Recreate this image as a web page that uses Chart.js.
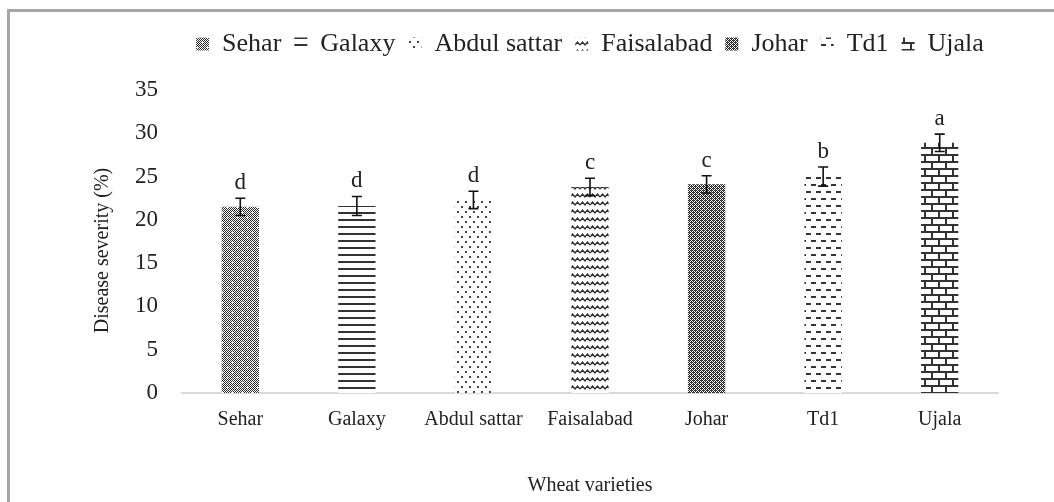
<!DOCTYPE html>
<html>
<head>
<meta charset="utf-8">
<script src="https://cdn.jsdelivr.net/npm/chart.js@4.4.1/dist/chart.umd.min.js"></script>
<style>
  html, body { margin: 0; padding: 0; background: #fff; overflow: hidden; }
  #frame { position: absolute; left: 7px; top: 9px; width: 2000px; height: 2000px; border: 3px solid #a6a6a6; }
  #chart { position: absolute; left: 0; top: 0; }
</style>
</head>
<body>
<div id="frame"></div>
<canvas id="chart" width="1054" height="502"></canvas>
<script>
// varieties, mean severity, error and letter groups
const varieties = ['Sehar', 'Galaxy', 'Abdul sattar', 'Faisalabad', 'Johar', 'Td1', 'Ujala'];
const severity = [21.5, 21.6, 22.3, 23.8, 24.1, 25.0, 28.9];
const errors = [1.0, 1.1, 1.0, 1.0, 1.0, 1.1, 1.0];
const letters = ['d', 'd', 'd', 'c', 'c', 'b', 'a'];
const yTicks = [0, 5, 10, 15, 20, 25, 30, 35];

const SERIF = '"Liberation Serif", "Times New Roman", serif';
const INK = '#222';

// little tile canvases -> fill patterns
function tile(w, h, draw) {
  const c = document.createElement('canvas');
  c.width = w; c.height = h;
  const g = c.getContext('2d');
  g.fillStyle = '#fff';
  g.fillRect(0, 0, w, h);
  draw(g);
  return c;
}

const tiles = [
  // Sehar: dark checker with white crosses
  tile(10, 10, g => {
    g.fillStyle = '#2a2a2a';
    for (let y = 0; y < 10; y++) for (let x = 0; x < 10; x++) if ((x + y) % 2 === 0) g.fillRect(x, y, 1, 1);
    g.fillStyle = '#fff';
    [[2, 2], [7, 7]].forEach(([x, y]) => { g.fillRect(x - 1, y, 3, 1); g.fillRect(x, y - 1, 1, 3); });
  }),
  // Galaxy: horizontal lines
  tile(8, 7, g => { g.fillStyle = '#333'; g.fillRect(0, 2, 8, 2); }),
  // Abdul sattar: staggered dots
  tile(8, 10, g => { g.fillStyle = '#444'; g.fillRect(1, 1, 2, 2); g.fillRect(5, 6, 2, 2); }),
  // Faisalabad: waves
  tile(10, 8, g => {
    g.strokeStyle = '#333'; g.lineWidth = 1.4;
    g.beginPath(); g.moveTo(0, 5); g.lineTo(2.5, 2); g.lineTo(5, 5); g.lineTo(7.5, 2); g.lineTo(10, 5); g.stroke();
  }),
  // Johar: fine dark checker
  tile(4, 4, g => {
    g.fillStyle = '#222';
    for (let y = 0; y < 4; y++) for (let x = 0; x < 4; x++) if ((x + y) % 2 === 0) g.fillRect(x, y, 1, 1);
    g.fillStyle = '#555'; g.fillRect(1, 0, 1, 1); g.fillRect(3, 2, 1, 1);
  }),
  // Td1: staggered dashes
  tile(10, 14, g => { g.fillStyle = '#333'; g.fillRect(1, 2, 5, 2); g.fillRect(6, 9, 5, 2); g.fillRect(0, 9, 1, 2); }),
  // Ujala: bricks
  tile(14, 14, g => {
    g.fillStyle = '#333';
    g.fillRect(0, 0, 14, 2); g.fillRect(0, 7, 14, 2);
    g.fillRect(0, 0, 2, 7); g.fillRect(7, 7, 2, 7);
  })
];

const ctx = document.getElementById('chart').getContext('2d');
const patterns = tiles.map(t => ctx.createPattern(t, 'repeat'));

// error bars and significance letters
const errorBars = {
  id: 'errorBars',
  afterDatasetsDraw(chart) {
    const g = chart.ctx;
    const y = chart.scales.y;
    const meta = chart.getDatasetMeta(0);
    g.save();
    g.strokeStyle = '#111';
    g.lineWidth = 1.6;
    g.fillStyle = INK;
    g.font = '23px ' + SERIF;
    g.textAlign = 'center';
    g.textBaseline = 'alphabetic';
    meta.data.forEach((bar, i) => {
      const top = y.getPixelForValue(severity[i] + errors[i]);
      const bot = y.getPixelForValue(severity[i] - errors[i]);
      g.beginPath();
      g.moveTo(bar.x, top); g.lineTo(bar.x, bot);
      g.moveTo(bar.x - 5, top); g.lineTo(bar.x + 5, top);
      g.moveTo(bar.x - 5, bot); g.lineTo(bar.x + 5, bot);
      g.stroke();
      g.fillText(letters[i], bar.x, top - 9);
    });
    g.restore();
  }
};

// y axis title sits far left of the tick labels
const yTitle = {
  id: 'yTitle',
  afterDraw(chart) {
    const g = chart.ctx;
    const a = chart.chartArea;
    g.save();
    g.translate(103, (a.top + a.bottom) / 2 + 9);
    g.rotate(-Math.PI / 2);
    g.fillStyle = INK;
    g.font = '20px ' + SERIF;
    g.textAlign = 'center';
    g.textBaseline = 'middle';
    g.fillText('Disease severity (%)', 0, 0);
    g.restore();
  }
};

new Chart(ctx, {
  type: 'bar',
  data: {
    labels: varieties,
    datasets: [{
      label: 'Disease severity',
      data: severity,
      backgroundColor: patterns,
      borderWidth: 0,
      categoryPercentage: 1,
      barPercentage: 0.32
    }]
  },
  options: {
    responsive: false,
    animation: false,
    layout: { padding: { left: 0, right: 56, top: 18, bottom: 0 } },
    plugins: {
      tooltip: { enabled: false },
      // empty title used as a spacer between legend and plot
      title: { display: true, text: '', weight: 500, font: { size: 10 }, padding: { top: 11, bottom: 0 } },
      legend: {
        position: 'top',
        fullSize: false,
        onClick: null,
        labels: {
          font: { family: SERIF, size: 26 },
          color: INK,
          boxWidth: 13,
          boxHeight: 13,
          padding: 13,
          generateLabels: () => varieties.map((v, i) => ({
            text: v,
            fillStyle: patterns[i],
            strokeStyle: 'rgba(0,0,0,0)',
            lineWidth: 0,
            fontColor: INK,
            hidden: false,
            index: i
          }))
        }
      }
    },
    scales: {
      x: {
        grid: { display: false, drawTicks: false },
        border: { display: true, color: '#d9d9d9', width: 2 },
        ticks: { font: { family: SERIF, size: 20 }, color: INK, padding: 15, maxRotation: 0, autoSkip: false },
        title: { display: true, text: 'Wheat varieties', font: { family: SERIF, size: 20 }, color: INK, padding: { top: 0, bottom: 4 } },
        afterFit(scale) { scale.height = 109; }
      },
      y: {
        min: 0,
        max: 35,
        afterBuildTicks(scale) { scale.ticks = yTicks.map(v => ({ value: v })); },
        grid: { display: false, drawTicks: false },
        border: { display: false },
        ticks: { font: { family: SERIF, size: 23 }, color: INK, padding: 24 },
        afterFit(scale) { scale.width = 182; }
      }
    }
  },
  plugins: [errorBars, yTitle]
});
</script>
</body>
</html>
